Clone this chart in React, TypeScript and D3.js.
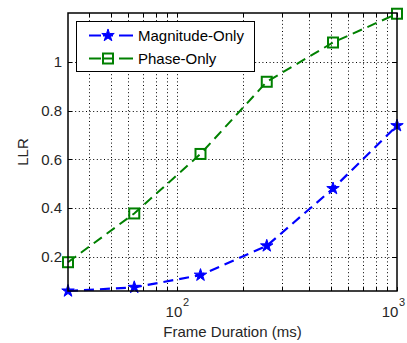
import React from "react";
import * as d3 from "d3";

// Frame durations (ms) and the LLR measured for each variant
const frameDurations = [32, 64, 128, 256, 512, 1000];
const magnitudeOnly = [0.06, 0.075, 0.125, 0.245, 0.48, 0.738];
const phaseOnly = [0.178, 0.378, 0.622, 0.918, 1.079, 1.197];

const yTicks = [0.2, 0.4, 0.6, 0.8, 1];
const xMajorTicks = [100, 1000];
const xMinorTicks = [40, 50, 60, 70, 80, 90, 200, 300, 400, 500, 600, 700, 800, 900];

const seriesNames = ["Magnitude-Only", "Phase-Only"];
const BLUE = "#0000ff";
const GREEN = "#008000";
const FONT = "'Liberation Sans', Arial, sans-serif";

const W = 407;
const H = 343;
const L = 68, R = 397, T = 13, B = 291;

export default function App() {
  const x = d3.scaleLog().domain([32, 1000]).range([L, R]);
  const y = d3.scaleLinear().domain([0.06, 1.2]).range([B, T]);

  const line = d3
    .line<number>()
    .x((_, i) => x(frameDurations[i]))
    .y((d) => y(d));

  const star = d3.symbol().type(d3.symbolStar).size(48)();
  const tickLen = 4;
  const gridDash = "1,2.6";

  const superLabel = (v: number) => {
    const exp = Math.round(Math.log10(v));
    const cx = Math.min(x(v), W - 14);
    return (
      <g key={`xl${v}`}>
        <text x={cx - 3} y={317} fontSize={15} textAnchor="middle" fontFamily={FONT} fill="#262626">
          10
        </text>
        <text x={cx + 6} y={306} fontSize={11} textAnchor="start" fontFamily={FONT} fill="#262626">
          {exp}
        </text>
      </g>
    );
  };

  return (
    <svg
      width={W}
      height={H}
      style={{ position: "absolute", left: 0, top: 0, background: "#fff" }}
    >
      <rect x={0} y={0} width={W} height={H} fill="#fff" />
      <rect x={L} y={T} width={R - L} height={B - T} fill="#fff" />

      {/* grid */}
      <g stroke="#000" strokeWidth={1} strokeDasharray={gridDash}>
        {[...xMinorTicks, ...xMajorTicks].filter((v) => v < 1000).map((v) => (
          <line key={`gx${v}`} x1={Math.round(x(v)) + 0.5} x2={Math.round(x(v)) + 0.5} y1={T} y2={B} />
        ))}
        {yTicks.map((v) => (
          <line key={`gy${v}`} x1={L} x2={R} y1={Math.round(y(v)) + 0.5} y2={Math.round(y(v)) + 0.5} />
        ))}
      </g>

      {/* ticks, pointing inward on all four sides */}
      <g stroke="#000" strokeWidth={1}>
        {[...xMinorTicks, ...xMajorTicks].map((v) => {
          const px = Math.round(x(v)) + 0.5;
          return (
            <g key={`tx${v}`}>
              <line x1={px} x2={px} y1={B} y2={B - tickLen} />
              <line x1={px} x2={px} y1={T} y2={T + tickLen} />
            </g>
          );
        })}
        {yTicks.map((v) => {
          const py = Math.round(y(v)) + 0.5;
          return (
            <g key={`ty${v}`}>
              <line x1={L} x2={L + tickLen} y1={py} y2={py} />
              <line x1={R} x2={R - tickLen} y1={py} y2={py} />
            </g>
          );
        })}
      </g>

      {/* series */}
      <path d={line(phaseOnly) || ""} fill="none" stroke={GREEN} strokeWidth={2} strokeDasharray="10,6" />
      <path d={line(magnitudeOnly) || ""} fill="none" stroke={BLUE} strokeWidth={2.2} strokeDasharray="10,6" />

      {phaseOnly.map((v, i) => (
        <rect
          key={`sq${i}`}
          x={x(frameDurations[i]) - 5}
          y={y(v) - 5}
          width={10}
          height={10}
          fill="none"
          stroke={GREEN}
          strokeWidth={2}
        />
      ))}
      {magnitudeOnly.map((v, i) => (
        <path
          key={`st${i}`}
          d={star || ""}
          transform={`translate(${x(frameDurations[i])},${y(v)})`}
          fill={BLUE}
          stroke={BLUE}
          strokeWidth={1}
        />
      ))}

      {/* axes box */}
      <rect x={L} y={T} width={R - L} height={B - T} fill="none" stroke="#000" strokeWidth={1.5} />

      {/* tick labels */}
      {yTicks.map((v) => (
        <text
          key={`yl${v}`}
          x={62}
          y={y(v)}
          dy="0.35em"
          fontSize={15}
          textAnchor="end"
          fontFamily={FONT}
          fill="#262626"
        >
          {d3.format("~g")(v)}
        </text>
      ))}
      {xMajorTicks.map((v) => superLabel(v))}

      {/* axis titles */}
      <text x={(L + R) / 2} y={337} fontSize={15} textAnchor="middle" fontFamily={FONT} fill="#262626">
        Frame Duration (ms)
      </text>
      <text
        transform={`translate(28,${(T + B) / 2}) rotate(-90)`}
        fontSize={15}
        textAnchor="middle"
        fontFamily={FONT}
        fill="#262626"
      >
        LLR
      </text>

      {/* legend */}
      <g>
        <rect x={76.5} y={21.5} width={178} height={50} fill="#fff" stroke="#000" strokeWidth={1} />
        {seriesNames.map((name, i) => {
          const cy = 35.5 + i * 23;
          const color = i === 0 ? BLUE : GREEN;
          return (
            <g key={name}>
              <line x1={89} x2={101} y1={cy} y2={cy} stroke={color} strokeWidth={2} />
              <line x1={103} x2={113} y1={cy} y2={cy} stroke={color} strokeWidth={2} />
              <line x1={119} x2={133} y1={cy} y2={cy} stroke={color} strokeWidth={2} />
              {i === 0 ? (
                <path d={star || ""} transform={`translate(108,${cy})`} fill={BLUE} stroke={BLUE} strokeWidth={1} />
              ) : (
                <rect x={103} y={cy - 5} width={10} height={10} fill="none" stroke={GREEN} strokeWidth={2} />
              )}
              <text x={138} y={cy} dy="0.35em" fontSize={15} fontFamily={FONT} fill="#000">
                {name}
              </text>
            </g>
          );
        })}
      </g>
    </svg>
  );
}
